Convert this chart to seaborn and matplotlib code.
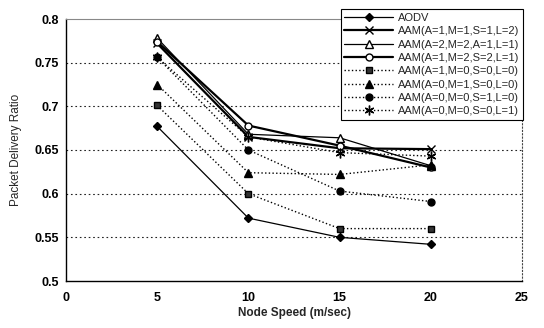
import matplotlib
matplotlib.use("Agg")
import matplotlib.pyplot as plt
import seaborn as sns
import pandas as pd

# Node speed (m/sec)
speeds = [5, 10, 15, 20]

# Packet delivery ratio per protocol configuration
aodv = [0.677, 0.572, 0.550, 0.542]
aam_1112 = [0.772, 0.665, 0.652, 0.651]
aam_2211 = [0.778, 0.668, 0.664, 0.632]
aam_1221 = [0.774, 0.678, 0.655, 0.630]
aam_1000 = [0.701, 0.600, 0.560, 0.560]
aam_0100 = [0.725, 0.624, 0.622, 0.633]
aam_0010 = [0.756, 0.650, 0.603, 0.591]
aam_0001 = [0.756, 0.665, 0.647, 0.643]

labels = [
    "AODV",
    "AAM(A=1,M=1,S=1,L=2)",
    "AAM(A=2,M=2,A=1,L=1)",
    "AAM(A=1,M=2,S=2,L=1)",
    "AAM(A=1,M=0,S=0,L=0)",
    "AAM(A=0,M=1,S=0,L=0)",
    "AAM(A=0,M=0,S=1,L=0)",
    "AAM(A=0,M=0,S=0,L=1)",
]
series = [aodv, aam_1112, aam_2211, aam_1221, aam_1000, aam_0100, aam_0010, aam_0001]

x_ticks = [0, 5, 10, 15, 20, 25]
y_ticks = [0.5, 0.55, 0.6, 0.65, 0.7, 0.75, 0.8]

sns.set_theme(style="white")
plt.rcParams["font.family"] = ["Liberation Sans", "DejaVu Sans"]

# (marker, face colour, line style, line width, marker size)
styles = [
    ("D", "black", "-", 0.9, 4.5),
    ("x", "black", "-", 1.6, 6),
    ("^", "white", "-", 0.9, 5.5),
    ("o", "white", "-", 1.6, 5),
    ("s", "#333333", ":", 1.0, 5),
    ("^", "black", ":", 1.0, 5.5),
    ("o", "black", ":", 1.0, 5),
    ((6, 2, 0), "black", ":", 1.0, 7),
]

fig = plt.figure(figsize=(5.44, 3.28), dpi=100)
ax = fig.add_axes([66 / 544, 1 - 281 / 328, (522 - 66) / 544, (281 - 19) / 328])

for lab, vals, (mk, fc, ls, lw, ms) in zip(labels, series, styles):
    df = pd.DataFrame({"speed": speeds, "pdr": vals})
    sns.lineplot(
        data=df, x="speed", y="pdr", ax=ax, label=lab,
        color="black", linestyle=ls, linewidth=lw,
        marker=mk, markersize=ms, markerfacecolor=fc,
        markeredgecolor="black", markeredgewidth=1.0,
    )

ax.set_xlim(0, 25)
ax.set_ylim(0.5, 0.8)
ax.set_xticks(x_ticks)
ax.set_xticklabels([str(t) for t in x_ticks])
ax.set_yticks(y_ticks)
ax.set_yticklabels([f"{t:g}" for t in y_ticks])

for t in y_ticks[1:-1]:
    ax.axhline(t, color="#222222", linestyle=(0, (1.5, 2.5)), linewidth=0.8, zorder=0)

ax.tick_params(axis="x", direction="in", length=3, width=0.8, colors="black",
               labelsize=9, pad=8)
ax.tick_params(axis="y", direction="out", length=2, width=0.8, colors="black",
               labelsize=9, pad=3)
for lbl in ax.get_xticklabels() + ax.get_yticklabels():
    lbl.set_fontweight("bold")

ax.spines["left"].set_color("black")
ax.spines["bottom"].set_color("black")
ax.spines["left"].set_linewidth(1.0)
ax.spines["bottom"].set_linewidth(1.0)
ax.spines["top"].set_color("#888888")
ax.spines["top"].set_linewidth(0.8)
ax.spines["right"].set_color("#444444")
ax.spines["right"].set_linestyle((0, (1, 2)))
ax.spines["right"].set_linewidth(0.8)

ax.set_xlabel("Node Speed (m/sec)", fontsize=8.5, fontweight="bold", labelpad=2)
ax.set_ylabel("Packet Delivery Ratio", fontsize=8.5, labelpad=9)

leg = ax.legend(
    loc="upper right", bbox_to_anchor=(523 / 544, 1 - 9 / 328),
    bbox_transform=fig.transFigure, fontsize=8, frameon=True,
    fancybox=False, edgecolor="black", framealpha=1, handlelength=4.4,
    handletextpad=0.4, labelspacing=0.3, borderpad=0.35, borderaxespad=0,
)
leg.get_frame().set_linewidth(0.8)

fig.savefig("out.png", dpi=100)
